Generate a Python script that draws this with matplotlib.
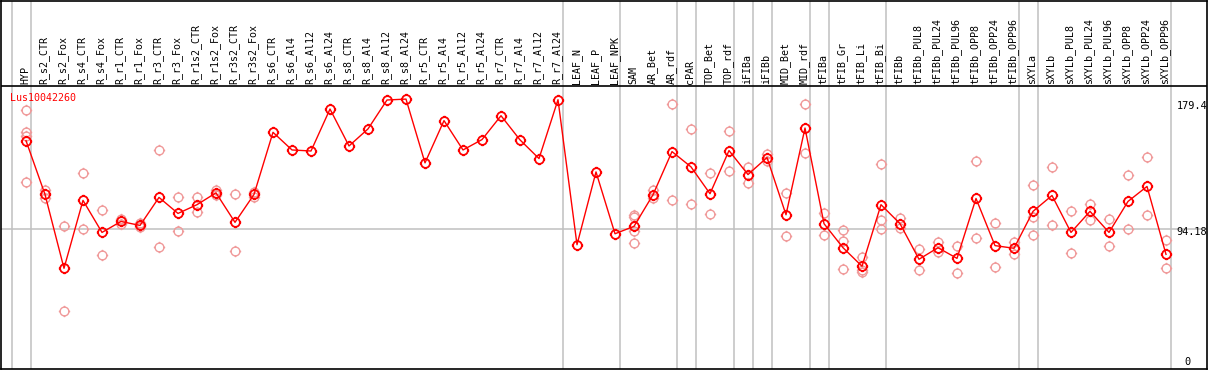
import numpy as np
import matplotlib
matplotlib.use("Agg")
import matplotlib.pyplot as plt
from matplotlib.path import Path

# Data
gene = "Lus10042260"
samples = ["HYP", "R_s2_CTR", "R_s2_Fox", "R_s4_CTR", "R_s4_Fox", "R_r1_CTR", "R_r1_Fox",
           "R_r3_CTR", "R_r3_Fox", "R_r1s2_CTR", "R_r1s2_Fox", "R_r3s2_CTR", "R_r3s2_Fox",
           "R_s6_CTR", "R_s6_Al4", "R_s6_Al12", "R_s6_Al24", "R_s8_CTR", "R_s8_Al4",
           "R_s8_Al12", "R_s8_Al24", "R_r5_CTR", "R_r5_Al4", "R_r5_Al12", "R_r5_Al24",
           "R_r7_CTR", "R_r7_Al4", "R_r7_Al12", "R_r7_Al24", "LEAF_N", "LEAF_P", "LEAF_NPK",
           "SAM", "AR_Bet", "AR_rdf", "cPAR", "TOP_Bet", "TOP_rdf", "iFIBa", "iFIBb",
           "MID_Bet", "MID_rdf", "tFIBa", "tFIB_Gr", "tFIB_Li", "tFIB_Bi", "tFIBb",
           "tFIBb_PUL8", "tFIBb_PUL24", "tFIBb_PUL96", "tFIBb_OPP8", "tFIBb_OPP24",
           "tFIBb_OPP96", "sXYLa", "sXYLb", "sXYLb_PUL8", "sXYLb_PUL24", "sXYLb_PUL96",
           "sXYLb_OPP8", "sXYLb_OPP24", "sXYLb_OPP96"]

means = [154.0, 117.7, 67.9, 113.7, 92.1, 99.5, 96.8, 115.7, 104.9, 110.8, 118.8, 98.9, 117.7,
         159.6, 147.7, 147.0, 175.3, 150.4, 161.9, 181.4, 182.0, 139.0, 167.5, 147.7, 154.7,
         170.8, 154.5, 141.9, 181.6, 83.8, 132.9, 91.2,
         96.2, 117.5, 146.6, 136.3, 118.2, 147.3, 131.1, 142.6, 104.0, 162.5, 98.0, 81.8,
         69.3, 110.8, 98.0, 74.0, 81.8, 74.6, 115.0, 83.2, 81.4, 106.3, 117.0, 92.1, 106.3,
         92.1, 113.0, 123.1, 77.3]

replicates = [[174.8, 159.6, 156.9, 126.2], [120.4, 115.5], [96.2, 38.8], [132.3, 94.6],
              [107.4, 77.1], [101.3, 98.0], [98.6, 95.7], [147.7, 82.5], [116.3, 93.3],
              [115.7, 106.0], [120.6, 117.0], [117.7, 79.4], [119.2, 116.3],
              [], [], [], [], [], [], [], [], [], [], [], [], [], [], [], [], [], [], [],
              [104.0, 102.2, 92.8, 84.7], [120.8, 115.5], [178.7, 114.1], [161.9, 111.4],
              [132.3, 104.2], [160.5, 133.6], [136.5, 125.5], [145.0, 140.5], [118.8, 89.9],
              [178.7, 145.7], [105.4, 90.6], [93.9, 86.1, 67.2], [75.3, 67.0, 65.4],
              [137.9, 100.7, 94.1], [101.8, 95.0], [80.7, 67.0], [85.6, 78.9], [83.2, 65.0],
              [140.5, 88.6], [98.6, 68.6], [85.6, 77.8], [124.2, 102.4, 90.6], [136.5, 97.3],
              [106.3, 78.0], [111.6, 100.7], [101.3, 82.7], [130.5, 94.6], [143.2, 103.6],
              [86.8, 67.9]]

# last sample of each group (vertical separators)
group_ends = [-1, 0, 28, 31, 34, 35, 37, 38, 39, 41, 42, 45, 52, 53, 60]

y_max = 179.4
y_mid = 94.18

# figure geometry (pixels)
W, H = 1209, 370
px_per_unit = 1.487
label_line = (369 - 85) / px_per_unit   # value where the header line sits
top_val = 369 / px_per_unit

fig = plt.figure(figsize=(W / 100, H / 100), dpi=100)
ax = fig.add_axes([1 / W, 1 / H, 1206 / W, 368 / H])
x0 = (1 - 26) / 19
x1 = (1207 - 26) / 19
ax.set_xlim(x0, x1)
ax.set_ylim(0, top_val)
ax.set_xticks([])
ax.set_yticks([])
for s in ax.spines.values():
    s.set_linewidth(1.2)
    s.set_color("black")

mono = "DejaVu Sans Mono"

# ring marker with small ticks
ticks = Path([(1, 0), (1.3, 0), (-1, 0), (-1.3, 0), (0, 1), (0, 1.3), (0, -1), (0, -1.3)],
             [Path.MOVETO, Path.LINETO] * 4)
ring = Path.make_compound_path(Path.unit_circle(), ticks)

# grid
for g in group_ends:
    ax.axvline(g + 0.24, color="#c0c0c0", lw=1.1, zorder=1)
ax.plot([x0, x1], [y_mid, y_mid], color="#c0c0c0", lw=1.1, zorder=1)
ax.plot([x0, x1], [label_line, label_line], color="black", lw=1.2, zorder=3)

xs = np.arange(len(samples))

# replicates
rx, ry = [], []
for i, reps in enumerate(replicates):
    rx += [i] * len(reps)
    ry += reps
ax.plot(rx, ry, linestyle="none", marker=ring, markersize=8.2, markerfacecolor="none",
        markeredgecolor="#f09a9a", markeredgewidth=1.0, zorder=2)

# means
ax.plot(xs, means, color="red", lw=1.0, marker=ring, markersize=8.2,
        markerfacecolor="none", markeredgecolor="red", markeredgewidth=1.3, zorder=4)

# sample labels
for i, name in enumerate(samples):
    ax.text(i - 0.05, (369 - 83) / px_per_unit, name, rotation=90, ha="center", va="bottom",
            fontsize=7.2, family=mono, color="black")

# gene name
ax.text((9.5 - 26) / 19, (369 - 97) / px_per_unit, gene, ha="left", va="center",
        fontsize=7.2, family=mono, color="red")

# value labels at right
tr = ax.get_yaxis_transform()
ax.text(1.0, y_max - 2.7 / px_per_unit, "179.4", transform=tr, ha="right", va="center",
        fontsize=7.4, family=mono)
ax.text(1.0, y_mid - 2.7 / px_per_unit, "94.18", transform=tr, ha="right", va="center",
        fontsize=7.4, family=mono)
ax.text(0.986, 7 / px_per_unit, "0", transform=tr, ha="right", va="center",
        fontsize=7.4, family=mono)

fig.savefig("out.png", dpi=100)
